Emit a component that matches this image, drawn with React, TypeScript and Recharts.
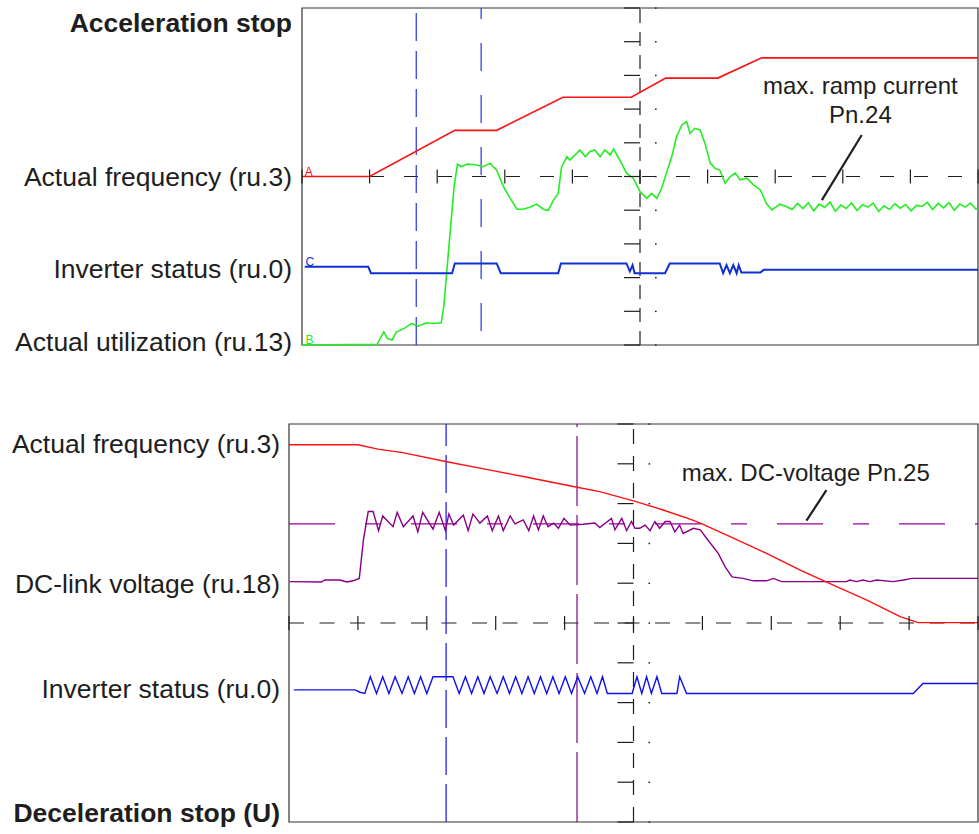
import React from 'react';
import {
  ComposedChart,
  Line,
  Scatter,
  XAxis,
  YAxis,
  ReferenceLine,
  ReferenceArea,
  ReferenceDot,
} from 'recharts';

type Pt = [number, number];

// both plots are 10 x 10 scope divisions, time on x, level on y

// --- acceleration stop ---
const accelFrequency: Pt[] = [
  [0, 5], [1.0, 5], [2.26, 6.37], [2.88, 6.37], [3.86, 7.35], [4.87, 7.35],
  [5.38, 7.92], [6.15, 7.92], [6.8, 8.52], [10, 8.52],
];

const accelUtilization: Pt[] = [
  [0, 0], [1.11, 0.02], [1.21, 0.39], [1.26, 0.2], [1.33, 0.15], [1.4, 0.39], [1.52, 0.5],
  [1.62, 0.64], [1.72, 0.56], [1.84, 0.66], [1.94, 0.64], [2.06, 0.66], [2.1, 1.19],
  [2.19, 3.32], [2.25, 4.7], [2.3, 5.37], [2.36, 5.29], [2.44, 5.37], [2.58, 5.34],
  [2.68, 5.29], [2.78, 5.39], [2.88, 5.19], [2.98, 4.7], [3.08, 4.35], [3.18, 4.03],
  [3.27, 4.03], [3.37, 4.09], [3.47, 4.18], [3.57, 4.03], [3.64, 3.99], [3.72, 4.3],
  [3.79, 4.5], [3.84, 5.29], [3.92, 5.59], [3.96, 5.49], [4.04, 5.64], [4.11, 5.79],
  [4.19, 5.59], [4.26, 5.74], [4.33, 5.79], [4.41, 5.59], [4.48, 5.79], [4.56, 5.64],
  [4.61, 5.81], [4.7, 5.49], [4.8, 5.1], [4.9, 4.95], [5.0, 4.55], [5.1, 4.35],
  [5.17, 4.5], [5.25, 4.35], [5.32, 4.65], [5.39, 5.1], [5.47, 5.59], [5.54, 6.18],
  [5.62, 6.53], [5.69, 6.63], [5.74, 6.28], [5.81, 6.43], [5.89, 6.38], [5.96, 5.99],
  [6.04, 5.39], [6.11, 5.24], [6.18, 5.19], [6.26, 4.8], [6.33, 4.99], [6.41, 5.1],
  [6.48, 4.9], [6.58, 4.95], [6.68, 4.75], [6.78, 4.6], [6.87, 4.2], [6.95, 4.01],
  [7.07, 4.18], [7.17, 4.1], [7.25, 4.02], [7.33, 4.2], [7.41, 4.05], [7.49, 4.22],
  [7.57, 3.98], [7.65, 4.18], [7.73, 4.08], [7.81, 4.24], [7.89, 3.97], [7.97, 4.15],
  [8.05, 4.05], [8.13, 4.22], [8.21, 3.99], [8.29, 4.16], [8.37, 4.09], [8.45, 4.21],
  [8.53, 3.96], [8.61, 4.13], [8.69, 4.02], [8.77, 4.19], [8.85, 4.06], [8.93, 4.17],
  [9.01, 3.98], [9.09, 4.14], [9.17, 4.11], [9.25, 4.23], [9.33, 4.02], [9.41, 4.2],
  [9.49, 4.07], [9.57, 4.22], [9.65, 4.0], [9.73, 4.18], [9.81, 4.09], [9.89, 4.21],
  [9.97, 4.03], [10, 4.08],
];

const accelStatus: Pt[] = [
  [0.04, 2.32], [0.98, 2.32], [1.02, 2.13], [2.22, 2.13], [2.26, 2.42], [2.88, 2.42],
  [2.94, 2.13], [3.79, 2.13], [3.83, 2.42], [4.8, 2.42], [4.85, 2.18], [4.89, 2.37],
  [4.92, 2.13], [5.37, 2.13], [5.44, 2.42], [6.18, 2.42], [6.23, 2.13], [6.28, 2.37],
  [6.33, 2.13], [6.38, 2.37], [6.43, 2.13], [6.46, 2.37], [6.5, 2.15], [6.78, 2.15],
  [6.83, 2.23], [10, 2.23],
];

const accelLabelText = ['Acceleration stop', 'Actual frequency (ru.3)', 'Inverter status (ru.0)', 'Actual utilization (ru.13)'];
const accelLabelLevel = [9.58, 5, 2.28, 0.1];
const accelCursors = [1.69, 2.65];

// --- deceleration stop ---
const decelFrequency: Pt[] = [
  [0, 9.48], [1.0, 9.48], [1.29, 9.37], [1.65, 9.28], [2.29, 9.05], [2.92, 8.84],
  [3.4, 8.68], [4.18, 8.41], [4.51, 8.3], [5.0, 8.07], [5.43, 7.84], [5.82, 7.61],
  [5.97, 7.51], [6.45, 7.13], [6.93, 6.75], [7.42, 6.33], [7.9, 5.95], [8.38, 5.58],
  [8.87, 5.16], [9.13, 5.01], [10, 5.01],
];

const decelVoltage: Pt[] = [
  [0.01, 6.04], [0.47, 6.03], [0.52, 6.08], [0.74, 6.08], [0.84, 6.03], [0.93, 6.06],
  [1.02, 6.12], [1.08, 7.09], [1.15, 7.8], [1.22, 7.8], [1.3, 7.32], [1.36, 7.69],
  [1.51, 7.42], [1.57, 7.78], [1.66, 7.42], [1.8, 7.69], [1.87, 7.29], [1.94, 7.78],
  [2.09, 7.36], [2.18, 7.78], [2.27, 7.32], [2.32, 7.74], [2.39, 7.46], [2.53, 7.71],
  [2.6, 7.32], [2.67, 7.74], [2.77, 7.51], [2.88, 7.69], [2.95, 7.32], [3.04, 7.69],
  [3.11, 7.32], [3.21, 7.69], [3.28, 7.49], [3.4, 7.59], [3.48, 7.32], [3.55, 7.69],
  [3.62, 7.34], [3.69, 7.69], [3.76, 7.42], [3.84, 7.51], [3.91, 7.38], [3.99, 7.63],
  [4.08, 7.46], [4.27, 7.48], [4.44, 7.51], [4.51, 7.4], [4.68, 7.63], [4.73, 7.34],
  [4.83, 7.63], [4.9, 7.32], [4.97, 7.55], [5.02, 7.38], [5.09, 7.38], [5.17, 7.46],
  [5.24, 7.32], [5.31, 7.55], [5.38, 7.38], [5.46, 7.55], [5.53, 7.55], [5.6, 7.29],
  [5.67, 7.46], [5.72, 7.25], [5.87, 7.38], [5.97, 7.34], [6.06, 7.13], [6.23, 6.75],
  [6.33, 6.41], [6.43, 6.16], [6.59, 6.12], [6.74, 6.06], [6.93, 6.06], [7.03, 6.12],
  [7.15, 6.04], [8.09, 6.04], [8.14, 6.08], [8.24, 6.04], [8.33, 6.08], [8.43, 6.04],
  [8.53, 6.08], [8.77, 6.04], [8.92, 6.08], [9.04, 6.12], [10, 6.12],
];

const decelStatus: Pt[] = [
  [0.07, 3.32], [0.96, 3.32], [1.03, 3.26], [1.1, 3.23], [1.18, 3.65], [1.27, 3.23],
  [1.36, 3.65], [1.45, 3.23], [1.54, 3.65], [1.64, 3.23], [1.73, 3.65], [1.82, 3.23],
  [1.91, 3.65], [2.0, 3.23], [2.09, 3.65], [2.38, 3.65], [2.47, 3.23], [2.56, 3.65],
  [2.65, 3.23], [2.74, 3.65], [2.83, 3.23], [2.92, 3.65], [3.02, 3.23], [3.11, 3.65],
  [3.2, 3.23], [3.29, 3.65], [3.38, 3.23], [3.47, 3.65], [3.56, 3.23], [3.65, 3.65],
  [3.74, 3.23], [3.83, 3.65], [3.92, 3.23], [4.01, 3.65], [4.1, 3.23], [4.19, 3.65],
  [4.29, 3.23], [4.38, 3.65], [4.47, 3.23], [4.55, 3.65], [4.62, 3.23], [4.98, 3.23],
  [5.05, 3.65], [5.12, 3.23], [5.19, 3.65], [5.26, 3.23], [5.34, 3.65], [5.41, 3.23],
  [5.63, 3.23], [5.67, 3.65], [5.77, 3.23], [9.06, 3.23], [9.2, 3.48], [10, 3.48],
];

const decelLabelText = ['Actual frequency (ru.3)', 'DC-link voltage (ru.18)', 'Inverter status (ru.0)', 'Deceleration stop (U)'];
const decelLabelLevel = [9.5, 6.0, 3.34, 0.23];
const decelCursors = [2.28, 4.18];
const maxVoltageLevel = 7.49;

const divisions = [0, 1, 2, 3, 4, 5, 6, 7, 8, 9, 10];

const rows = (pts: Pt[]) => pts.map(([t, v]) => ({ t, v }));
const hTickRows = divisions.map((d) => ({ t: d, v: 5 }));
const vTickRows = divisions.map((d) => ({ t: 5, v: d }));

const INK = '#1e1e1e';
const FONT = "'Liberation Sans', Arial, Helvetica, sans-serif";

// short marks on the horizontal centre line
const XTick = (p: any) => (
  <line x1={p.cx} x2={p.cx} y1={p.cy - 7} y2={p.cy + 7} stroke={INK} strokeWidth={1.2} />
);

// marks on the vertical centre line: dash on the left, dot on the right
const YTick = (p: any) => (
  <g>
    <line x1={p.cx - 16} x2={p.cx} y1={p.cy} y2={p.cy} stroke={INK} strokeWidth={1.2} />
    <rect x={p.cx + 15} y={p.cy - 0.6} width={1.6} height={1.4} fill={INK} />
  </g>
);

const labelTick = (texts: string[], levels: number[], bold: string) => (p: any) => {
  const text = texts[levels.indexOf(p.payload.value)];
  return (
    <text
      x={p.x}
      y={p.y}
      dy="0.355em"
      textAnchor="end"
      fontSize={26.5}
      fontWeight={text === bold ? 700 : 400}
      fill={INK}
    >
      {text}
    </text>
  );
};

const note = (text: string) => (p: any) => (
  <text x={p.cx} y={p.cy} dy="0.355em" textAnchor="middle" fontSize={24} fill={INK}>
    {text}
  </text>
);

const trace = (text: string, color: string) => (p: any) => (
  <text x={p.cx} y={p.cy} dy={-1} textAnchor="start" fontSize={12} fill={color}>
    {text}
  </text>
);

const crosshair = (hDash: string, vDash: string) => [
  <ReferenceArea key="frame" x1={0} x2={10} y1={0} y2={10} fill="none" fillOpacity={0} stroke="#333" strokeWidth={1.2} />,
  <ReferenceLine key="h" y={5} stroke={INK} strokeWidth={1.2} strokeDasharray={hDash} />,
  <ReferenceLine key="v" x={5} stroke={INK} strokeWidth={1.2} strokeDasharray={vDash} />,
];

export default function App() {
  return (
    <div style={{ position: 'absolute', left: 0, top: 0, width: 979, height: 834, background: '#fff', fontFamily: FONT }}>
      <div style={{ position: 'absolute', left: 0, top: 0 }}>
        <ComposedChart width={979} height={360} margin={{ top: 8, right: 1, bottom: 15, left: 0 }}>
          <XAxis dataKey="t" type="number" domain={[0, 10]} hide />
          <YAxis
            type="number"
            domain={[0, 10]}
            width={302}
            ticks={accelLabelLevel}
            interval={0}
            axisLine={false}
            tickLine={false}
            tickSize={0}
            tickMargin={10}
            tick={labelTick(accelLabelText, accelLabelLevel, 'Acceleration stop')}
          />
          {crosshair('14 20', '14 9')}
          <ReferenceLine x={accelCursors[0]} stroke="#2233dd" strokeWidth={1.2} strokeDasharray="28 10" />
          <ReferenceLine x={accelCursors[1]} stroke="#2233dd" strokeWidth={1.2} strokeDasharray="0 14 28 10" />
          <Scatter data={hTickRows} dataKey="v" shape={XTick} isAnimationActive={false} />
          <Scatter data={vTickRows} dataKey="v" shape={YTick} isAnimationActive={false} />
          <Line data={rows(accelFrequency)} dataKey="v" type="linear" stroke="#ff1010" strokeWidth={1.6} dot={false} isAnimationActive={false} />
          <Line data={rows(accelUtilization)} dataKey="v" type="linear" stroke="#22ee22" strokeWidth={1.6} dot={false} isAnimationActive={false} />
          <Line data={rows(accelStatus)} dataKey="v" type="linear" stroke="#1030d0" strokeWidth={2} dot={false} isAnimationActive={false} />
          <ReferenceLine segment={[{ x: 8.28, y: 6.23 }, { x: 7.69, y: 4.3 }]} stroke={INK} strokeWidth={2.2} />
          <ReferenceDot x={8.26} y={7.69} r={0} shape={note('max. ramp current')} />
          <ReferenceDot x={8.26} y={6.85} r={0} shape={note('Pn.24')} />
          <ReferenceDot x={0.04} y={5} r={0} shape={trace('A', '#ff1010')} />
          <ReferenceDot x={0.05} y={2.32} r={0} shape={trace('C', '#1030d0')} />
          <ReferenceDot x={0.05} y={0} r={0} shape={trace('B', '#22ee22')} />
        </ComposedChart>
      </div>
      <div style={{ position: 'absolute', left: 0, top: 400 }}>
        <ComposedChart width={979} height={434} margin={{ top: 24, right: 1, bottom: 12, left: 0 }}>
          <XAxis dataKey="t" type="number" domain={[0, 10]} hide />
          <YAxis
            type="number"
            domain={[0, 10]}
            width={289}
            ticks={decelLabelLevel}
            interval={0}
            axisLine={false}
            tickLine={false}
            tickSize={0}
            tickMargin={9}
            tick={labelTick(decelLabelText, decelLabelLevel, 'Deceleration stop (U)')}
          />
          {crosshair('15 15.5', '15 12')}
          <ReferenceLine x={decelCursors[0]} stroke="#1010ee" strokeWidth={1.2} strokeDasharray="38 9" />
          <ReferenceLine x={decelCursors[1]} stroke="#880088" strokeWidth={1.2} strokeDasharray="70 9" />
          <ReferenceLine y={maxVoltageLevel} stroke="#990099" strokeWidth={1.2} strokeDasharray="46 30 16 30" />
          <Scatter data={hTickRows} dataKey="v" shape={XTick} isAnimationActive={false} />
          <Scatter data={vTickRows} dataKey="v" shape={YTick} isAnimationActive={false} />
          <Line data={rows(decelVoltage)} dataKey="v" type="linear" stroke="#880088" strokeWidth={1.4} dot={false} isAnimationActive={false} />
          <Line data={rows(decelFrequency)} dataKey="v" type="linear" stroke="#ff1010" strokeWidth={1.4} dot={false} isAnimationActive={false} />
          <Line data={rows(decelStatus)} dataKey="v" type="linear" stroke="#1010ee" strokeWidth={1.4} dot={false} isAnimationActive={false} />
          <ReferenceLine segment={[{ x: 7.8, y: 8.34 }, { x: 7.51, y: 7.57 }]} stroke={INK} strokeWidth={2.2} />
          <ReferenceDot x={7.5} y={8.77} r={0} shape={note('max. DC-voltage Pn.25')} />
        </ComposedChart>
      </div>
    </div>
  );
}
